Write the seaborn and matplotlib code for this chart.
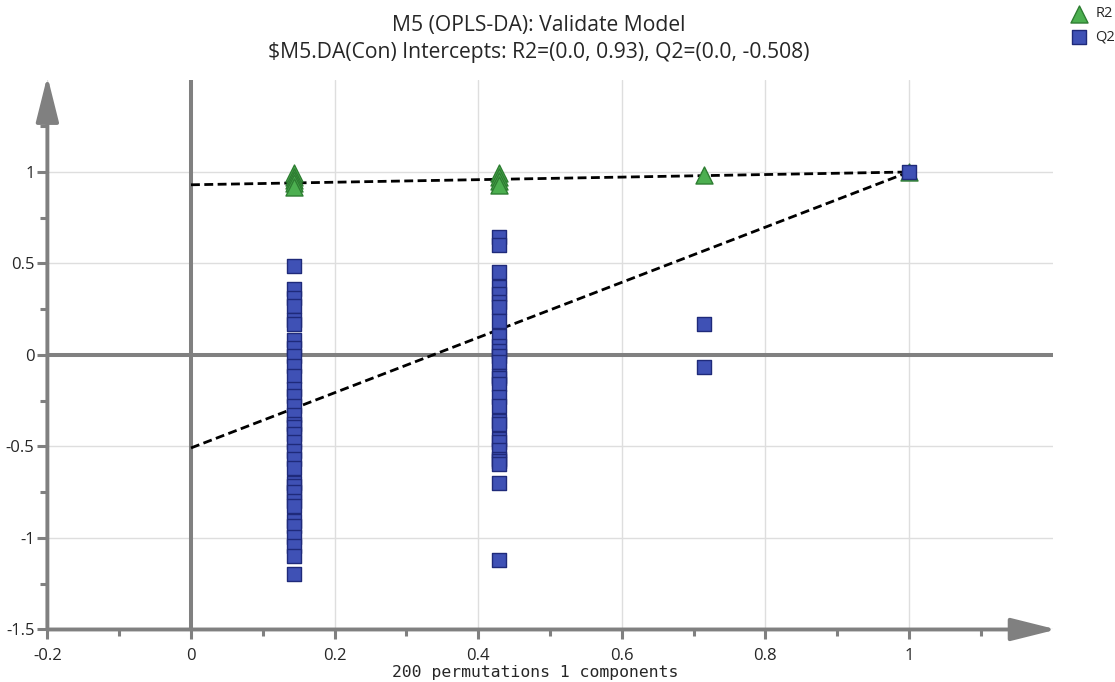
import numpy as np
import pandas as pd
import matplotlib
matplotlib.use("Agg")
import matplotlib.pyplot as plt
import seaborn as sns

# Correlation of permuted y with original y (x positions of the columns)
corr_x = [1 / 7, 3 / 7, 5 / 7, 1.0]

# R2 values per column
r2_c1 = [0.995, 0.975, 0.955, 0.94, 0.92]
r2_c2 = [0.995, 0.97, 0.95, 0.93]
r2_c3 = [0.985]
r2_orig = [1.0]

# Q2 values per column
q2_c1 = [0.488, 0.363, 0.314, 0.265, 0.192, 0.168, 0.081, 0.037, -0.008, -0.06,
         -0.114, -0.187, -0.223, -0.278, -0.33, -0.378, -0.392, -0.433, -0.478,
         -0.524, -0.569, -0.615, -0.697, -0.715, -0.751, -0.797, -0.824, -0.906,
         -0.933, -0.997, -1.043, -1.096, -1.195]
q2_c2 = [0.642, 0.600, 0.455, 0.372, 0.332, 0.292, 0.263, 0.187, 0.105, 0.050,
         0.023, -0.004, -0.041, -0.114, -0.127, -0.156, -0.232, -0.278, -0.360,
         -0.378, -0.460, -0.478, -0.52, -0.569, -0.578, -0.597, -0.702, -1.121]
q2_c3 = [0.17, -0.065]
q2_orig = [1.0]

# Regression lines (intercepts)
line_x = [0.0, 1.0]
r2_line = [0.93, 1.0]
q2_line = [-0.508, 1.0]

x_ticks = [-0.2, 0, 0.2, 0.4, 0.6, 0.8, 1.0]
x_labels = ["-0.2", "0", "0.2", "0.4", "0.6", "0.8", "1"]
y_ticks = [-1.5, -1, -0.5, 0, 0.5, 1]
y_labels = ["-1.5", "-1", "-0.5", "0", "0.5", "1"]


def to_frame(cols):
    rows = []
    for xv, vals in zip(corr_x, cols):
        for v in vals:
            rows.append((xv, v))
    return pd.DataFrame(rows, columns=["x", "y"])


df_r2 = to_frame([r2_c1, r2_c2, r2_c3, r2_orig])
df_q2 = to_frame([q2_c1, q2_c2, q2_c3, q2_orig])

sns.set_style("white")
plt.rcParams["font.family"] = ["Open Sans", "DejaVu Sans"]

gray = "#808080"
fig = plt.figure(figsize=(11.15, 6.82), dpi=100)
ax = fig.add_axes([0.0425, 0.077, 0.9015, 0.805])

# zero lines
ax.axhline(0, color=gray, lw=2.9, zorder=1.5)
ax.axvline(0, color=gray, lw=2.9, zorder=1.5)

# regression lines
sns.lineplot(x=line_x, y=r2_line, ax=ax, color="black", lw=2,
             linestyle=(0, (3.2, 1.6)), zorder=2)
sns.lineplot(x=line_x, y=q2_line, ax=ax, color="black", lw=2,
             linestyle=(0, (3.2, 1.6)), zorder=2)

# points
sns.scatterplot(data=df_r2, x="x", y="y", ax=ax, marker="^", s=150,
                color="#4caf50", edgecolor="#2e7d32", linewidth=1,
                label="R2", zorder=3)
sns.scatterplot(data=df_q2, x="x", y="y", ax=ax, marker="s", s=115,
                color="#3f51b5", edgecolor="#1f2a7a", linewidth=1,
                label="Q2", zorder=3)

ax.set_xlim(-0.2, 1.2)
ax.set_ylim(-1.5, 1.5)
ax.set_xticks(x_ticks)
ax.set_xticklabels(x_labels)
ax.set_yticks(y_ticks)
ax.set_yticklabels(y_labels)
ax.set_xticks(np.arange(-0.1, 1.15, 0.2), minor=True)
ax.set_yticks([-1.25, -0.75, -0.25, 0.25, 0.75, 1.25], minor=True)
ax.tick_params(which="both", left=True, bottom=True, direction="out",
               width=2.2, color=gray, labelsize=12)
ax.tick_params(which="major", length=7.2)
ax.tick_params(which="minor", length=4.7)
ax.tick_params(axis="y", pad=2)
ax.tick_params(axis="x", pad=6)
ax.grid(True, which="major", color="#dedede", lw=1)
ax.set_axisbelow(True)
for sp in ax.spines.values():
    sp.set_visible(False)

# axis lines with arrow heads
arrow = dict(arrowstyle="-|>,head_length=2.8,head_width=0.7", color=gray,
             lw=2.8, shrinkA=0, shrinkB=0, mutation_scale=10)
ax.annotate("", xy=(0, 1.008), xytext=(0, 0), xycoords="axes fraction",
            textcoords="axes fraction", arrowprops=arrow, annotation_clip=False)
ax.annotate("", xy=(1.004, 0), xytext=(0, 0), xycoords="axes fraction",
            textcoords="axes fraction", arrowprops=arrow, annotation_clip=False)

ax.set_xlabel("")
ax.set_ylabel("")
fig.text(0.48, 1 - 673 / 682, "200 permutations 1 components",
         family="DejaVu Sans Mono", fontsize=11.8, ha="center", va="center")

fig.text(0.483, 1 - 31 / 682, "M5 (OPLS-DA): Validate Model",
         fontsize=15.2, ha="center", va="baseline")
fig.text(0.483, 1 - 58 / 682,
         r"\$M5.DA(Con) Intercepts: R2=(0.0, 0.93), Q2=(0.0, -0.508)",
         fontsize=15.2, ha="center", va="baseline")

ax.legend(loc="upper left", bbox_to_anchor=(1.012, 1.135), frameon=False,
          handletextpad=0.1, labelspacing=0.55, fontsize=10.5,
          borderaxespad=0, borderpad=0)

fig.savefig("out.png", dpi=100)
